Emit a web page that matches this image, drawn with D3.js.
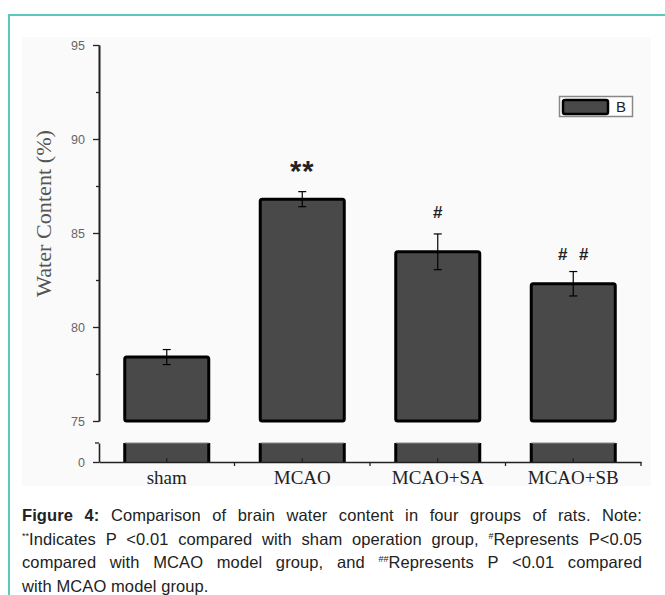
<!DOCTYPE html>
<html>
<head>
<meta charset="utf-8">
<script src="https://cdn.jsdelivr.net/npm/d3@7"></script>
<style>
  body { margin: 0; background: #fff; }
  #wrap { position: relative; width: 665px; height: 595px; overflow: hidden; }
  #frame { position: absolute; left: 8px; top: 14px; width: 700px; height: 600px;
           border-top: 2px solid #5cc8bb; border-left: 2px solid #5cc8bb; }
  svg { position: absolute; left: 0; top: 0; }
  #caption { position: absolute; left: 22px; top: 504px; width: 620px;
             font-family: "Liberation Sans", Arial, sans-serif; font-size: 16.5px;
             letter-spacing: 0.1px; color: #222; }
  #caption div { height: 23.5px; line-height: 23.5px; text-align: justify; text-align-last: justify; white-space: nowrap; }
  #caption div.last { text-align-last: left; }
  #caption sup { font-size: 9px; vertical-align: 6px; line-height: 0; letter-spacing: 0; }
</style>
</head>
<body>
<div id="wrap">
  <div id="frame"></div>
  <svg id="chart" width="665" height="595"></svg>
  <div id="caption"></div>
</div>
<script>
// data
const categories = ["sham", "MCAO", "MCAO+SA", "MCAO+SB"];
const means = [78.4, 86.8, 84.0, 82.3];
const errors = [0.4, 0.4, 0.95, 0.65];
const marks = ["", "**", "#", "# #"];
const markLevels = [null, 88.7, 86.1, 83.9];
const yTicks = [75, 80, 85, 90, 95];
const yMinorTicks = [77.5, 82.5, 87.5, 92.5];
const lowerTicks = [0];

const bars = categories.map((c, i) => ({ cat: c, mean: means[i], err: errors[i], mark: marks[i], level: markLevels[i] }));

const svg = d3.select("#chart");

// plot background (the figure is a pasted image with a light grey ground)
svg.append("rect")
  .attr("x", 22).attr("y", 37)
  .attr("width", 629).attr("height", 449)
  .attr("fill", "#fafafa");

// scales - broken y axis: 75..95 on top, a small piece at 0 below
const x = d3.scaleBand()
  .domain(categories)
  .range([99, 641])
  .paddingInner(0.38)
  .paddingOuter(0.19);

const yUp = d3.scaleLinear().domain([75, 95]).range([421, 45]);
const yLow = d3.scaleLinear().domain([0, 1]).range([462, 443]);

const barFill = "#494949";

// upper bar pieces
svg.append("g")
  .selectAll("rect")
  .data(bars)
  .join("rect")
  .attr("x", d => x(d.cat))
  .attr("y", d => yUp(d.mean))
  .attr("width", x.bandwidth())
  .attr("height", d => yUp(75) - yUp(d.mean))
  .attr("rx", 2)
  .attr("fill", barFill)
  .attr("stroke", "#000")
  .attr("stroke-width", 3);

// lower bar pieces
const low = svg.append("g");
low.selectAll("rect")
  .data(bars)
  .join("rect")
  .attr("x", d => x(d.cat))
  .attr("y", yLow(1))
  .attr("width", x.bandwidth())
  .attr("height", yLow(0) - yLow(1))
  .attr("fill", barFill);
low.selectAll("path")
  .data(bars)
  .join("path")
  .attr("d", d => `M${x(d.cat)},${yLow(0)}V${yLow(1)}M${x(d.cat) + x.bandwidth()},${yLow(0)}V${yLow(1)}`)
  .attr("stroke", "#000")
  .attr("stroke-width", 3);
low.selectAll("line")
  .data(bars)
  .join("line")
  .attr("x1", d => x(d.cat)).attr("x2", d => x(d.cat) + x.bandwidth())
  .attr("y1", yLow(1)).attr("y2", yLow(1))
  .attr("stroke", "#888").attr("stroke-width", 1);

// error bars
const eb = svg.append("g").attr("stroke", "#000").attr("stroke-width", 1.2);
bars.forEach(d => {
  const cx = x(d.cat) + x.bandwidth() / 2;
  const top = yUp(d.mean + d.err), bot = yUp(d.mean - d.err);
  eb.append("line").attr("x1", cx).attr("x2", cx).attr("y1", top).attr("y2", bot);
  eb.append("line").attr("x1", cx - 4).attr("x2", cx + 4).attr("y1", top).attr("y2", top);
  eb.append("line").attr("x1", cx - 4).attr("x2", cx + 4).attr("y1", bot).attr("y2", bot);
});

// significance marks
const isStar = d => d.mark.includes("*");
svg.append("g")
  .selectAll("text")
  .data(bars.filter(d => d.mark))
  .join("text")
  .attr("x", d => x(d.cat) + x.bandwidth() / 2)
  .attr("y", d => yUp(d.level))
  .attr("dy", d => isStar(d) ? "0.6em" : "0.36em")
  .attr("text-anchor", "middle")
  .style("font-family", "'Liberation Sans', Arial, sans-serif")
  .style("font-size", d => isStar(d) ? "29px" : "17px")
  .style("font-weight", "bold")
  .style("letter-spacing", d => isStar(d) ? "1px" : "0px")
  .style("word-spacing", "7px")
  .attr("fill", "#222")
  .text(d => d.mark);

// y axes
function styleAxis(g) {
  g.selectAll(".domain").attr("stroke", "#222").attr("stroke-width", 1.6);
  g.selectAll(".tick line").attr("stroke", "#222").attr("stroke-width", 1.3);
  g.selectAll(".tick text")
    .attr("fill", "#666")
    .style("font-family", "'Liberation Sans', Arial, sans-serif")
    .style("font-size", "12.5px");
}

svg.append("g")
  .attr("transform", "translate(99,0)")
  .call(d3.axisLeft(yUp).tickValues(yMinorTicks).tickSize(3).tickSizeOuter(0).tickFormat(""))
  .call(styleAxis);

svg.append("g")
  .attr("transform", "translate(99,0)")
  .call(d3.axisLeft(yUp).tickValues(yTicks).tickSize(6).tickSizeOuter(0).tickPadding(8))
  .call(styleAxis);

svg.append("g")
  .attr("transform", "translate(99,0)")
  .call(d3.axisLeft(yLow).tickValues(lowerTicks).tickFormat(d3.format("d"))
    .tickSize(6).tickSizeOuter(0).tickPadding(8))
  .call(styleAxis)
  .call(g => g.append("line")
    .attr("x1", -4).attr("x2", 0)
    .attr("y1", yLow(1)).attr("y2", yLow(1))
    .attr("stroke", "#222").attr("stroke-width", 1.3));

// x axis: small ticks at bar centres pointing up, ticks between groups pointing down
const xAxis = svg.append("g")
  .attr("transform", `translate(0,${yLow(0)})`)
  .call(d3.axisBottom(x).tickSize(-4).tickSizeOuter(0).tickPadding(9));
xAxis.select(".domain").attr("stroke", "#222").attr("stroke-width", 1.6);
xAxis.selectAll(".tick line").attr("stroke", "#222").attr("stroke-width", 1.3);
xAxis.selectAll(".tick text")
  .attr("fill", "#222")
  .style("font-family", "'Liberation Serif', 'Times New Roman', serif")
  .style("font-size", "19px");
xAxis.selectAll("line.sep")
  .data(d3.range(1, categories.length + 1))
  .join("line")
  .attr("class", "sep")
  .attr("x1", i => x.range()[0] + i * x.step())
  .attr("x2", i => x.range()[0] + i * x.step())
  .attr("y1", 0).attr("y2", 4)
  .attr("stroke", "#222").attr("stroke-width", 1.3);

// y axis title
svg.append("text")
  .attr("transform", `translate(51,${(yUp(95) + yLow(0)) / 2 - 40}) rotate(-90)`)
  .attr("text-anchor", "middle")
  .attr("textLength", 167)
  .attr("lengthAdjust", "spacingAndGlyphs")
  .style("font-family", "'Liberation Serif', 'Times New Roman', serif")
  .style("font-size", "20px")
  .attr("fill", "#555")
  .text("Water Content (%)");

// legend
const lg = svg.append("g");
lg.append("rect")
  .attr("x", 559.5).attr("y", 96.5).attr("width", 73).attr("height", 20)
  .attr("fill", "#fff").attr("stroke", "#888").attr("stroke-width", 1.5);
lg.append("rect")
  .attr("x", 563).attr("y", 100).attr("width", 45).attr("height", 14).attr("rx", 2)
  .attr("fill", barFill).attr("stroke", "#000").attr("stroke-width", 2.5);
lg.append("text")
  .attr("x", 616).attr("y", 112)
  .style("font-family", "'Liberation Sans', Arial, sans-serif")
  .style("font-size", "15px")
  .attr("fill", "#222")
  .text("B");

// caption
const captionLines = [
  "<b>Figure 4:</b> Comparison of brain water content in four groups of rats. Note:",
  "<sup>**</sup>Indicates P &lt;0.01 compared with sham operation group, <sup>#</sup>Represents P&lt;0.05",
  "compared with MCAO model group, and <sup>##</sup>Represents P &lt;0.01 compared",
  "with MCAO model group."
];
d3.select("#caption")
  .selectAll("div")
  .data(captionLines)
  .join("div")
  .attr("class", (d, i) => i === captionLines.length - 1 ? "last" : null)
  .html(d => d);
</script>
</body>
</html>
